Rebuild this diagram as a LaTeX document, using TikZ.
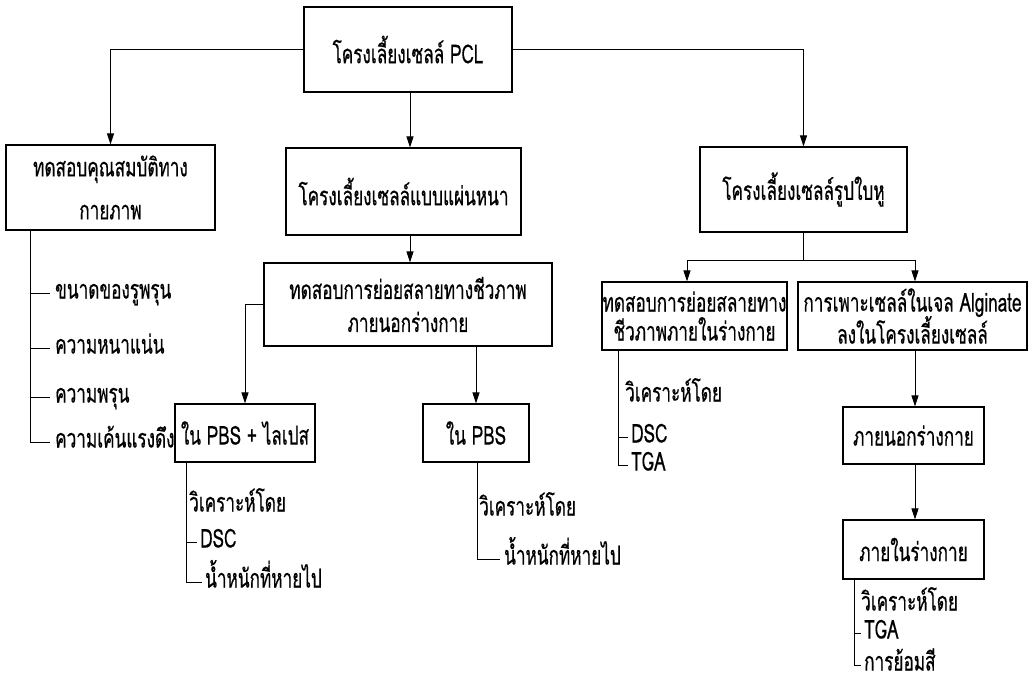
\documentclass[tikz,border=0pt]{standalone}
\usepackage{fontspec}
\setmainfont[Script=Thai,FakeStretch=0.66,FakeBold=0.5]{Loma}
\usetikzlibrary{arrows.meta}
\newcommand{\thsz}{\fontsize{26}{31}\selectfont}
\tikzset{
  box/.style={draw, line width=1.1pt, inner sep=0pt, align=center, font=\thsz},
  lbl/.style={anchor=west, inner sep=0pt, font=\thsz, text height=11pt, text depth=0pt},
  conn/.style={line width=1pt},
  arr/.style={conn, -{Triangle[length=11pt,width=7pt]}}
}
\begin{document}
\begin{tikzpicture}[x=1pt,y=-1pt]
\useasboundingbox (0,0) rectangle (1034,683);
% boxes
\node[box, minimum width=208pt, minimum height=85pt] (top) at (408,49.5) {โครงเลี้ยงเซลล์ PCL};
\node[box, minimum width=209pt, minimum height=85pt] (lbox) at (110.5,187.5) {ทดสอบคุณสมบัติทาง\\[12pt]กายภาพ};
\node[box, minimum width=235pt, minimum height=87pt] (mid) at (403.5,191.5) {โครงเลี้ยงเซลล์แบบแผ่นหนา};
\node[box, minimum width=207pt, minimum height=85pt] (rbox) at (803.5,189.5) {โครงเลี้ยงเซลล์รูปใบหู};
\node[box, minimum width=288pt, minimum height=83pt] (vitro) at (408,304.5) {ทดสอบการย่อยสลายทางชีวภาพ\\[2pt]ภายนอกร่างกาย};
\node[box, minimum width=140pt, minimum height=58pt] (pbsl) at (245,433) {ใน PBS + ไลเปส};
\node[box, minimum width=106pt, minimum height=58pt] (pbs) at (476,433) {ใน PBS};
\node[box, minimum width=185pt, minimum height=68pt] (vivo) at (694.5,316) {ทดสอบการย่อยสลายทาง\\[-2pt]ชีวภาพภายในร่างกาย};
\node[box, minimum width=229pt, minimum height=68pt] (alg) at (912.5,316) {การเพาะเซลล์ในเจล Alginate\\[-2pt]ลงในโครงเลี้ยงเซลล์};
\node[box, minimum width=141pt, minimum height=57pt] (exv) at (913.5,435.5) {ภายนอกร่างกาย};
\node[box, minimum width=141pt, minimum height=59pt] (inv) at (913.5,549.5) {ภายในร่างกาย};

% top connections
\draw[arr] (top.west) -| (lbox.north);
\draw[arr] (top.east) -| (rbox.north);
\draw[arr] ([xshift=2pt]top.south) -- ([xshift=2pt]top.south |- mid.north);
\draw[arr] ([xshift=2pt]top.south |- mid.south) -- ([xshift=2pt]top.south |- vitro.north);
\draw[arr] (vitro.west) -| (pbsl.north);
\draw[arr] (vitro.south -| pbs.north) -- (pbs.north);

% right branch
\coordinate (jl) at (687,260);
\coordinate (jr) at (915,260);
\draw[conn] (rbox.south) -- (rbox.south |- jl);
\draw[conn] (jl) -- (jr);
\draw[arr] (jl) -- (jl |- vivo.north);
\draw[arr] (jr) -- (jr |- alg.north);
\draw[arr] (jr |- alg.south) -- (jr |- exv.north);
\draw[arr] (jr |- exv.south) -- (jr |- inv.north);

% left list
\coordinate (lt) at (30,230);
\node[lbl] (l1) at (55,293) {ขนาดของรูพรุน};
\node[lbl] (l2) at (55,348) {ความหนาแน่น};
\node[lbl] (l3) at (55,397) {ความพรุน};
\node[lbl] (l4) at (55,442) {ความเค้นแรงดึง};
\draw[conn] (lt) |- ([xshift=-5pt]l4.west);
\foreach \n in {l1,l2,l3} \draw[conn] (lt |- \n.west) -- ([xshift=-5pt]\n.west);

% PBS + lipase list
\coordinate (pt) at (186,462);
\node[lbl] (p1) at (189,506) {วิเคราะห์โดย};
\node[lbl] (p2) at (200,542) {DSC};
\node[lbl] (p3) at (205,582) {น้ำหนักที่หายไป};
\draw[conn] (pt) |- ([xshift=-3pt]p3.west);
\draw[conn] (pt |- p2.west) -- ([xshift=-3pt]p2.west);

% PBS list
\coordinate (qt) at (477,462);
\node[lbl] (q1) at (479,510) {วิเคราะห์โดย};
\node[lbl] (q2) at (504,559) {น้ำหนักที่หายไป};
\draw[conn] (qt) |- ([xshift=-4pt]q2.west);

% in vivo list
\coordinate (vt) at (618,350);
\node[lbl] (v1) at (625,396) {วิเคราะห์โดย};
\node[lbl] (v2) at (631,437) {DSC};
\node[lbl] (v3) at (631,465) {TGA};
\draw[conn] (vt) |- ([xshift=-3pt]v3.west);
\draw[conn] (vt |- v2.west) -- ([xshift=-3pt]v2.west);

% alginate in vivo list
\coordinate (wt) at (854,579);
\node[lbl] (w1) at (861,605) {วิเคราะห์โดย};
\node[lbl] (w2) at (864,633) {TGA};
\node[lbl] (w3) at (864,665) {การย้อมสี};
\draw[conn] (wt) |- ([xshift=-3pt]w3.west);
\draw[conn] (wt |- w2.west) -- ([xshift=-3pt]w2.west);
\end{tikzpicture}
\end{document}
